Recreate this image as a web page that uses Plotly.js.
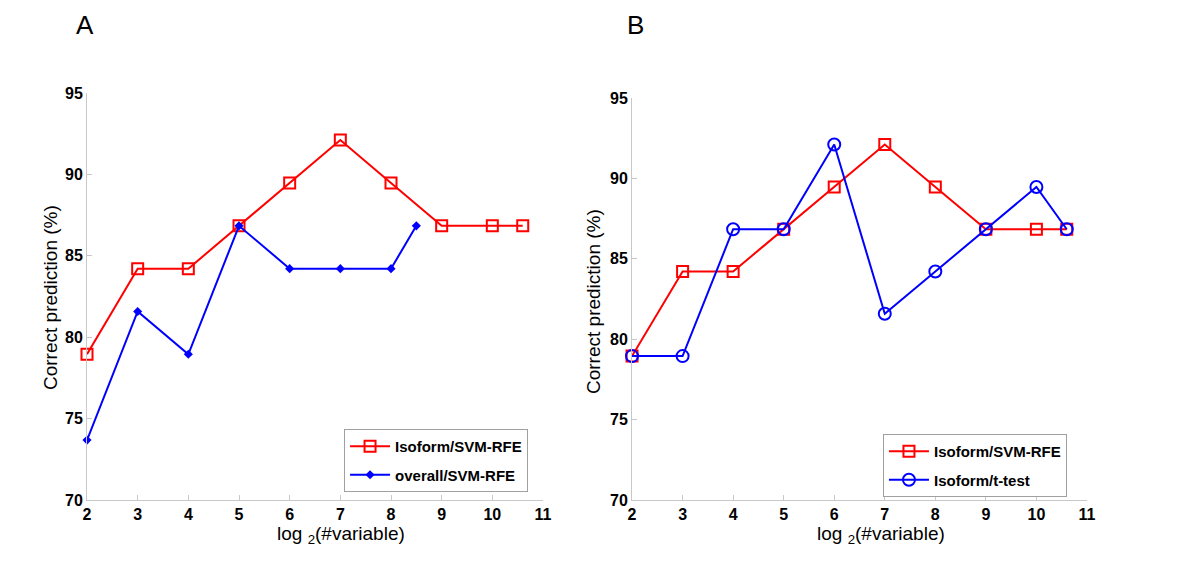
<!DOCTYPE html>
<html><head><meta charset="utf-8">
<script src="https://cdn.plot.ly/plotly-3.0.1.min.js"></script>
<style>body{margin:0;background:#fff}#plot{width:1200px;height:565px}</style>
</head><body><div id="plot"></div>
<script>
// Panel A
const xIsoA = [2,3,4,5,6,7,8,9,10,10.6];
const yIsoA = [78.95,84.21,84.21,86.84,89.47,92.11,89.47,86.84,86.84,86.84];
const xOverallA = [2,3,4,5,6,7,8,8.5];
const yOverallA = [73.68,81.58,78.95,86.84,84.21,84.21,84.21,86.84];
// Panel B
const xIsoB = [2,3,4,5,6,7,8,9,10,10.6];
const yIsoB = [78.95,84.21,84.21,86.84,89.47,92.11,89.47,86.84,86.84,86.84];
const xTtestB = [2,3,4,5,6,7,8,9,10,10.6];
const yTtestB = [78.95,78.95,86.84,86.84,92.11,81.58,84.21,86.84,89.47,86.84];
const xTicks = [2,3,4,5,6,7,8,9,10,11];
const yTicks = [70,75,80,85,90,95];
const seriesNames = ['Isoform/SVM-RFE','overall/SVM-RFE','Isoform/t-test'];
const panelLabels = ['A','B'];
const xTitle = 'log <sub>2</sub>(#variable)';
const yTitle = 'Correct prediction (%)';

const RED = '#ff0000', BLUE = '#0000ff';
const FAM = 'Liberation Sans, Arial, sans-serif';
const traces = [
  {x:xIsoA,y:yIsoA,name:seriesNames[0],xaxis:'x',yaxis:'y',legend:'legend',legendgroup:'a1',mode:'lines+markers',cliponaxis:false,
   line:{color:RED,width:2},marker:{symbol:'square-open',size:11,color:RED,line:{width:2,color:RED}}},
  {x:xOverallA,y:yOverallA,name:seriesNames[1],xaxis:'x',yaxis:'y',legend:'legend',legendgroup:'a2',mode:'lines+markers',cliponaxis:false,
   line:{color:BLUE,width:2},marker:{symbol:'diamond',size:7,color:BLUE}},
  {x:xIsoB,y:yIsoB,name:seriesNames[0],xaxis:'x2',yaxis:'y2',legend:'legend2',legendgroup:'b1',mode:'lines+markers',cliponaxis:false,
   line:{color:RED,width:2},marker:{symbol:'square-open',size:11,color:RED,line:{width:2,color:RED}}},
  {x:xTtestB,y:yTtestB,name:seriesNames[2],xaxis:'x2',yaxis:'y2',legend:'legend2',legendgroup:'b2',mode:'lines+markers',cliponaxis:false,
   line:{color:BLUE,width:2},marker:{symbol:'circle-open',size:12,color:BLUE,line:{width:2,color:BLUE}}}
];

const tickFont = {family:FAM,size:16,color:'#000',weight:'bold'};
function xax(domain, anchor){
  return {domain:domain,anchor:anchor,range:[2,11],tickvals:xTicks,ticktext:xTicks.map(String),
    showgrid:false,zeroline:false,showline:true,linecolor:'#c8c8c8',linewidth:1,
    ticks:'inside',ticklen:5,tickcolor:'#c8c8c8',tickfont:tickFont};
}
function yax(domain, anchor){
  return {domain:domain,anchor:anchor,range:[70,95],tickvals:yTicks,ticktext:yTicks.map(String),
    showgrid:false,zeroline:false,showline:true,linecolor:'#c8c8c8',linewidth:1,
    ticks:'inside',ticklen:5,tickcolor:'#c8c8c8',tickfont:tickFont};
}
const legFont = {family:FAM,size:15,color:'#000',weight:'bold'};
const titleFont = {family:FAM,size:19,color:'#000'};
function ann(text,px,py,extra){
  return Object.assign({text:text,xref:'paper',yref:'paper',x:px/1200,y:1-py/565,xanchor:'center',yanchor:'middle',
    showarrow:false,font:titleFont},extra||{});
}
const layout = {
  width:1200,height:565,margin:{l:0,r:0,t:0,b:0},paper_bgcolor:'#fff',plot_bgcolor:'#fff',
  showlegend:true,
  xaxis:xax([0.0725,0.4525],'y'),
  yaxis:yax([0.115,0.8354],'x'),
  xaxis2:xax([0.5267,0.9058],'y2'),
  yaxis2:yax([0.115,0.8265],'x2'),
  legend:{x:0.2867,y:0.2407,xanchor:'left',yanchor:'top',bordercolor:'#a0a0a0',borderwidth:1,
    bgcolor:'#fff',font:legFont,tracegroupgap:6,itemwidth:40},
  legend2:{x:0.7358,y:0.2319,xanchor:'left',yanchor:'top',bordercolor:'#a0a0a0',borderwidth:1,
    bgcolor:'#fff',font:legFont,tracegroupgap:6,itemwidth:40},
  annotations:[
    ann(panelLabels[0],85,25,{font:{family:FAM,size:26,color:'#000'}}),
    ann(panelLabels[1],635,25,{font:{family:FAM,size:26,color:'#000'}}),
    ann(yTitle,50,298,{textangle:-90}),
    ann(yTitle,593,302,{textangle:-90}),
    ann(xTitle,341,535),
    ann(xTitle,881,535)
  ]
};
Plotly.newPlot('plot',traces,layout,{displayModeBar:false,staticPlot:true});
</script></body></html>
